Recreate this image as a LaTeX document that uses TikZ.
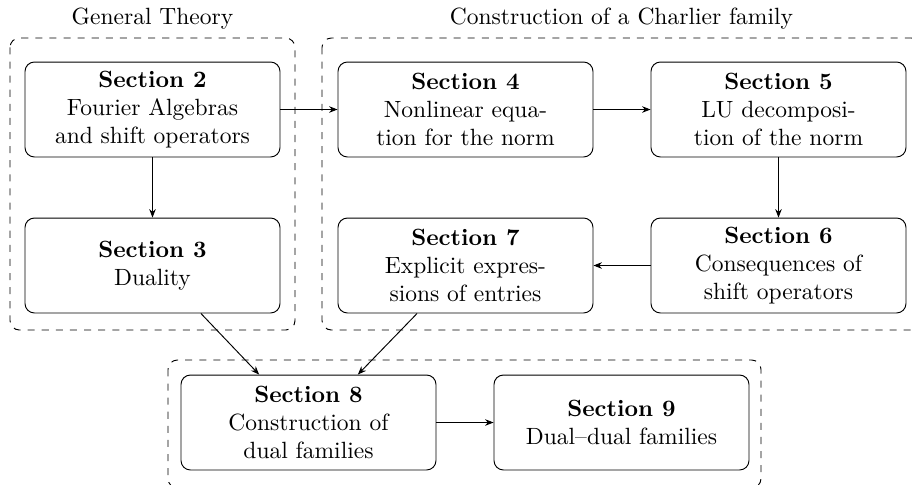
\documentclass[tikz,border=0pt]{standalone}
\usetikzlibrary{arrows.meta}
\begin{document}
\begin{tikzpicture}[x=0.4255pt,y=-0.4255pt,
  secbox/.style={draw, rounded corners=4pt, minimum width=108.5pt, minimum height=40.4pt,
    align=center, inner sep=0pt},
  groupbox/.style={draw, dashed, rounded corners=4pt},
  conn/.style={-{Stealth[length=3.6pt,width=2.8pt]}},
  grouplabel/.style={anchor=south}]
\useasboundingbox (0,0) rectangle (913,484);
\clip (0,0) rectangle (913,484);
% groups
\draw[groupbox] (10,38) rectangle (295,330);
\draw[groupbox] (322,38) rectangle (921,330);
\draw[groupbox] (168,360) rectangle (761,488);
\node[grouplabel] (gt) at (152.5,38) {General Theory};
\node[grouplabel] (cc) at (621.5,38) {Construction of a Charlier family};
% sections
\node[secbox] (s2) at (152.5,109.5) {\textbf{Section 2}\\Fourier Algebras\\and shift operators};
\node[secbox] (s3) at (152.5,265.5) {\textbf{Section 3}\\Duality};
\node[secbox] (s4) at (465.5,109.5) {\textbf{Section 4}\\Nonlinear equa-\\tion for the norm};
\node[secbox] (s5) at (778.5,109.5) {\textbf{Section 5}\\LU decomposi-\\tion of the norm};
\node[secbox] (s6) at (778.5,265.5) {\textbf{Section 6}\\Consequences of\\shift operators};
\node[secbox] (s7) at (465.5,265.5) {\textbf{Section 7}\\Explicit expres-\\sions of entries};
\node[secbox] (s8) at (308.5,422.5) {\textbf{Section 8}\\Construction of\\dual families};
\node[secbox] (s9) at (621.5,422.5) {\textbf{Section 9}\\Dual--dual families};
% connectors
\draw[conn] (s2) -- (s4);
\draw[conn] (s4) -- (s5);
\draw[conn] (s5) -- (s6);
\draw[conn] (s6) -- (s7);
\draw[conn] (s2) -- (s3);
\draw[conn] ([xshift=20.6pt]s3.south) -- ([xshift=-21pt]s8.north);
\draw[conn] ([xshift=-20.6pt]s7.south) -- ([xshift=21pt]s8.north);
\draw[conn] (s8) -- (s9);
\end{tikzpicture}
\end{document}
